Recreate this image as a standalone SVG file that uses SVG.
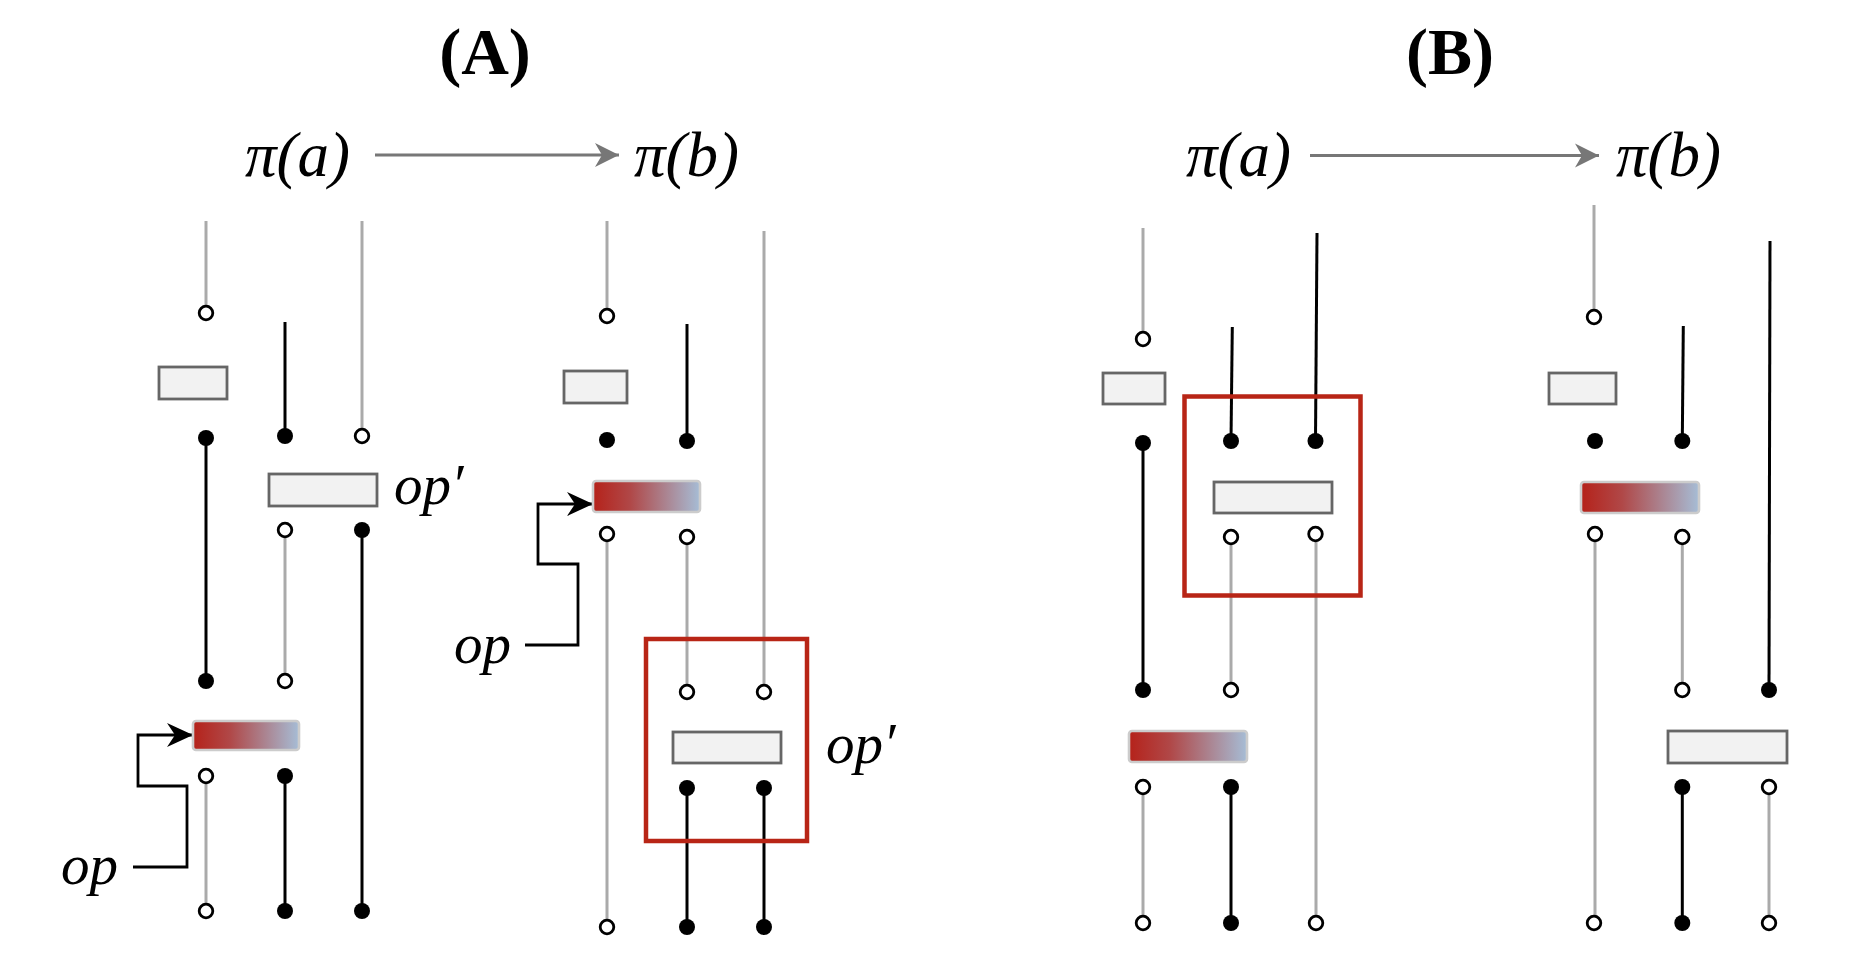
<svg xmlns="http://www.w3.org/2000/svg" width="1850" height="974" viewBox="0 0 1850 974">
<style>
.g{stroke:#aaaaaa;stroke-width:3;fill:none}
.k{stroke:#000;stroke-width:3;fill:none}
.oc{fill:#fff;stroke:#000;stroke-width:2.8}
.fc{fill:#000}
.box{fill:#f2f2f2;stroke:#666;stroke-width:2.8}
.grad{fill:url(#gr);stroke:#cccccc;stroke-width:2.6}
.red{fill:none;stroke:#b82516;stroke-width:4.5}
.m{font-family:"Liberation Serif","Times New Roman",serif;font-style:italic;font-size:57px;fill:#000}
.p{font-family:"Liberation Serif","Times New Roman",serif;font-style:italic;font-size:63px;fill:#000}
.t{font-family:"Liberation Serif","Times New Roman",serif;font-weight:bold;font-size:66px;fill:#000}
.ar{stroke:#777;stroke-width:2.8;fill:none}
.op{stroke:#000;stroke-width:2.8;fill:none}
</style>
<defs>
<linearGradient id="gr" x1="0" y1="0" x2="1" y2="0">
<stop offset="0" stop-color="#b5221a"/>
<stop offset="0.35" stop-color="#b04848"/>
<stop offset="1" stop-color="#a6bdd6"/>
</linearGradient>
<marker id="ga" markerUnits="userSpaceOnUse" viewBox="-25 -13 26 26" markerWidth="26" markerHeight="26" refX="0" refY="0" orient="auto">
<path d="M0,0 L-24,-12 L-17,0 L-24,12 Z" fill="#777"/>
</marker>
<marker id="ka" markerUnits="userSpaceOnUse" viewBox="-27 -13 28 26" markerWidth="28" markerHeight="26" refX="0" refY="0" orient="auto">
<path d="M0,0 L-26,-12 L-18,0 L-26,12 Z" fill="#000"/>
</marker>
</defs>
<rect width="1850" height="974" fill="#fff"/>

<g id="titles">
<text class="t" x="485" y="74" text-anchor="middle">(A)</text>
<text class="t" x="1450" y="74" text-anchor="middle">(B)</text>
</g>

<g id="state-labels">
<text class="p" x="245" y="176">π(a)</text>
<text class="p" x="634" y="176">π(b)</text>
<text class="p" x="1186" y="176">π(a)</text>
<text class="p" x="1616" y="176">π(b)</text>
</g>

<g id="connectors">
<line class="ar" x1="375" y1="155" x2="619" y2="155" marker-end="url(#ga)"/>
<line class="ar" x1="1310" y1="155.5" x2="1599" y2="155.5" marker-end="url(#ga)"/>
<path class="op" d="M133,867 H187 V786 H138 V735 H193" marker-end="url(#ka)"/>
<path class="op" d="M525,645 H578 V564 H538 V504 H593" marker-end="url(#ka)"/>
</g>

<g id="op-labels">
<text class="m" x="61" y="884">op</text>
<text class="m" x="454" y="663">op</text>
<text class="m" x="394" y="504">op′</text>
<text class="m" x="826" y="763">op′</text>
</g>

<!-- Panel A, left circuit -->
<g id="A1-wires">
<line class="g" x1="206" y1="221" x2="206" y2="313"/>
<line class="k" x1="285" y1="322" x2="285" y2="436"/>
<line class="g" x1="362" y1="221" x2="362" y2="436"/>
<line class="k" x1="206" y1="438" x2="206" y2="681"/>
<line class="g" x1="285" y1="530" x2="285" y2="681"/>
<line class="k" x1="362" y1="530" x2="362" y2="911"/>
<line class="g" x1="206" y1="776" x2="206" y2="911"/>
<line class="k" x1="285" y1="776" x2="285" y2="911"/>
</g>
<g id="A1-gate1"><rect class="box" x="159" y="367" width="68" height="32"/></g>
<g id="A1-gate2"><rect class="box" x="269" y="474" width="108" height="32"/></g>
<g id="A1-gate3"><rect class="grad" x="193" y="721" width="106" height="29" rx="3"/></g>
<g id="A1-dots">
<circle class="oc" cx="206" cy="313" r="6.8"/>
<circle class="fc" cx="285" cy="436" r="8"/>
<circle class="oc" cx="362" cy="436" r="6.8"/>
<circle class="fc" cx="206" cy="438" r="8"/>
<circle class="oc" cx="285" cy="530" r="6.8"/>
<circle class="fc" cx="362" cy="530" r="8"/>
<circle class="fc" cx="206" cy="681" r="8"/>
<circle class="oc" cx="285" cy="681" r="6.8"/>
<circle class="oc" cx="206" cy="776" r="6.8"/>
<circle class="fc" cx="285" cy="776" r="8"/>
<circle class="oc" cx="206" cy="911" r="6.8"/>
<circle class="fc" cx="285" cy="911" r="8"/>
<circle class="fc" cx="362" cy="911" r="8"/>
</g>

<!-- Panel A, right circuit -->
<g id="A2-wires">
<line class="g" x1="607" y1="221" x2="607" y2="316"/>
<line class="k" x1="687" y1="324" x2="687" y2="441"/>
<line class="g" x1="764" y1="231" x2="764" y2="692"/>
<line class="g" x1="607" y1="534" x2="607" y2="927"/>
<line class="g" x1="687" y1="537" x2="687" y2="692"/>
<line class="k" x1="687" y1="788" x2="687" y2="927"/>
<line class="k" x1="764" y1="788" x2="764" y2="927"/>
</g>
<g id="A2-gate1"><rect class="box" x="564" y="371" width="63" height="32"/></g>
<g id="A2-gate2"><rect class="grad" x="593" y="481" width="107" height="31" rx="3"/></g>
<g id="A2-gate3">
<rect class="red" x="646" y="639" width="161" height="202"/>
<rect class="box" x="673" y="732" width="108" height="31"/>
</g>
<g id="A2-dots">
<circle class="oc" cx="607" cy="316" r="6.8"/>
<circle class="fc" cx="607" cy="440" r="8"/>
<circle class="fc" cx="687" cy="441" r="8"/>
<circle class="oc" cx="607" cy="534" r="6.8"/>
<circle class="oc" cx="687" cy="537" r="6.8"/>
<circle class="oc" cx="687" cy="692" r="6.8"/>
<circle class="oc" cx="764" cy="692" r="6.8"/>
<circle class="fc" cx="687" cy="788" r="8"/>
<circle class="fc" cx="764" cy="788" r="8"/>
<circle class="oc" cx="607" cy="927" r="6.8"/>
<circle class="fc" cx="687" cy="927" r="8"/>
<circle class="fc" cx="764" cy="927" r="8"/>
</g>

<!-- Panel B, left circuit -->
<g id="B1-wires">
<line class="g" x1="1143" y1="228" x2="1143" y2="339"/>
<line class="k" x1="1232.3" y1="327" x2="1231" y2="441"/>
<line class="k" x1="1317" y1="233" x2="1315.5" y2="441"/>
<line class="k" x1="1143" y1="443" x2="1143" y2="690"/>
<line class="g" x1="1231" y1="537" x2="1231" y2="690"/>
<line class="g" x1="1316" y1="534" x2="1316" y2="923"/>
<line class="g" x1="1143" y1="787" x2="1143" y2="923"/>
<line class="k" x1="1231" y1="787" x2="1231" y2="923"/>
</g>
<g id="B1-gate1"><rect class="box" x="1103" y="373" width="62" height="31"/></g>
<g id="B1-gate2">
<rect class="red" x="1184.5" y="396.5" width="176" height="199"/>
<rect class="box" x="1214" y="482" width="118" height="31"/>
</g>
<g id="B1-gate3"><rect class="grad" x="1129" y="731" width="118" height="31" rx="3"/></g>
<g id="B1-dots">
<circle class="oc" cx="1143" cy="339" r="6.8"/>
<circle class="fc" cx="1143" cy="443" r="8"/>
<circle class="fc" cx="1231" cy="441" r="8"/>
<circle class="fc" cx="1315.5" cy="441" r="8"/>
<circle class="oc" cx="1231" cy="537" r="6.8"/>
<circle class="oc" cx="1315.5" cy="534" r="6.8"/>
<circle class="fc" cx="1143" cy="690" r="8"/>
<circle class="oc" cx="1231" cy="690" r="6.8"/>
<circle class="oc" cx="1143" cy="787" r="6.8"/>
<circle class="fc" cx="1231" cy="787" r="8"/>
<circle class="oc" cx="1143" cy="923" r="6.8"/>
<circle class="fc" cx="1231" cy="923" r="8"/>
<circle class="oc" cx="1316" cy="923" r="6.8"/>
</g>

<!-- Panel B, right circuit -->
<g id="B2-wires">
<line class="g" x1="1594" y1="205" x2="1594" y2="317"/>
<line class="k" x1="1683.3" y1="326" x2="1682.3" y2="441"/>
<line class="k" x1="1770" y1="241" x2="1769" y2="690"/>
<line class="g" x1="1595" y1="534" x2="1595" y2="923"/>
<line class="g" x1="1682.3" y1="537" x2="1682.3" y2="690"/>
<line class="k" x1="1682.3" y1="787" x2="1682.3" y2="923"/>
<line class="g" x1="1769" y1="787" x2="1769" y2="923"/>
</g>
<g id="B2-gate1"><rect class="box" x="1549" y="373" width="67" height="31"/></g>
<g id="B2-gate2"><rect class="grad" x="1581" y="482" width="118" height="31" rx="3"/></g>
<g id="B2-gate3"><rect class="box" x="1668" y="731" width="119" height="32"/></g>
<g id="B2-dots">
<circle class="oc" cx="1594" cy="317" r="6.8"/>
<circle class="fc" cx="1595" cy="441" r="8"/>
<circle class="fc" cx="1682.3" cy="441" r="8"/>
<circle class="oc" cx="1595" cy="534" r="6.8"/>
<circle class="oc" cx="1682.3" cy="537" r="6.8"/>
<circle class="oc" cx="1682.3" cy="690" r="6.8"/>
<circle class="fc" cx="1769" cy="690" r="8"/>
<circle class="fc" cx="1682.3" cy="787" r="8"/>
<circle class="oc" cx="1769" cy="787" r="6.8"/>
<circle class="oc" cx="1594" cy="923" r="6.8"/>
<circle class="fc" cx="1682.3" cy="923" r="8"/>
<circle class="oc" cx="1769" cy="923" r="6.8"/>
</g>
</svg>
